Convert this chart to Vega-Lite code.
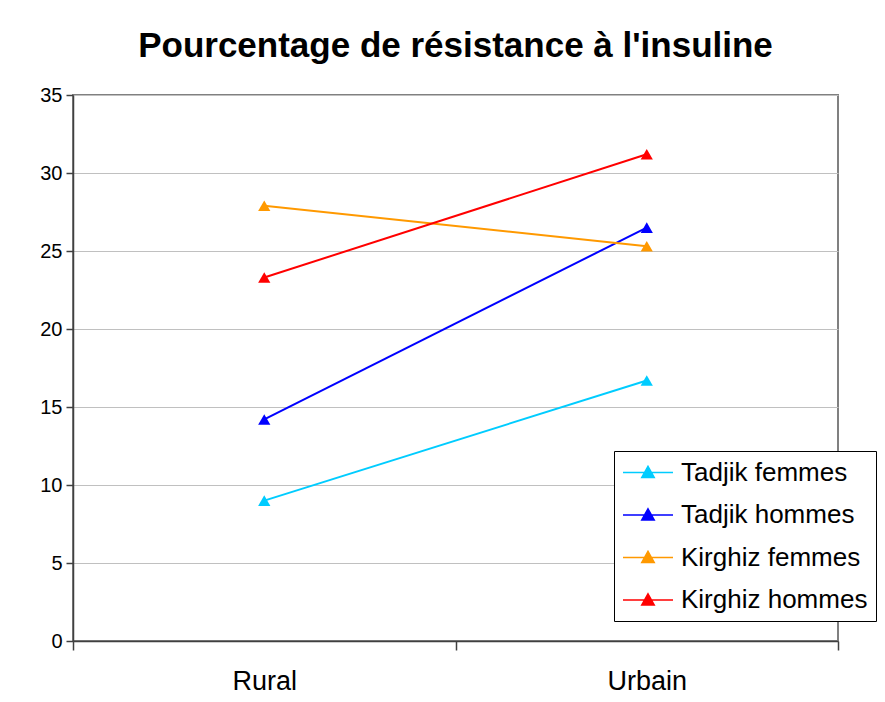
{
  "$schema": "https://vega.github.io/schema/vega-lite/v6.json",
  "autosize": "none",
  "width": 765,
  "height": 546,
  "padding": {"left": 73, "top": 95, "right": 47, "bottom": 61},
  "background": "white",
  "title": {
    "text": "Pourcentage de résistance à l'insuline",
    "font": "Liberation Sans",
    "fontSize": 35,
    "fontWeight": "bold",
    "color": "black",
    "anchor": "middle",
    "offset": 21
  },
  "config": {
    "font": "Liberation Sans",
    "view": {"stroke": "#808080", "strokeWidth": 2},
    "axis": {
      "labelFont": "Liberation Sans",
      "labelColor": "black",
      "domainColor": "#404040",
      "tickColor": "#404040",
      "domainWidth": 1.5,
      "tickWidth": 1.5
    }
  },
  "data": {
    "values": [
      {"zone": "Rural", "groupe": "Tadjik femmes", "pct": 9.0},
      {"zone": "Urbain", "groupe": "Tadjik femmes", "pct": 16.7},
      {"zone": "Rural", "groupe": "Tadjik hommes", "pct": 14.2},
      {"zone": "Urbain", "groupe": "Tadjik hommes", "pct": 26.5},
      {"zone": "Rural", "groupe": "Kirghiz femmes", "pct": 27.9},
      {"zone": "Urbain", "groupe": "Kirghiz femmes", "pct": 25.3},
      {"zone": "Rural", "groupe": "Kirghiz hommes", "pct": 23.3},
      {"zone": "Urbain", "groupe": "Kirghiz hommes", "pct": 31.2}
    ]
  },
  "encoding": {
    "x": {
      "field": "zone",
      "type": "nominal",
      "sort": ["Rural", "Urbain"],
      "scale": {"type": "band", "paddingInner": 0, "paddingOuter": 0},
      "axis": {
        "title": null,
        "labelAngle": 0,
        "labelFontSize": 27,
        "tickBand": "extent",
        "tickSize": 9,
        "labelPadding": 18,
        "grid": false
      }
    },
    "y": {
      "field": "pct",
      "type": "quantitative",
      "scale": {"domain": [0, 35], "nice": false},
      "axis": {
        "title": null,
        "values": [0, 5, 10, 15, 20, 25, 30, 35],
        "labelFontSize": 20,
        "tickSize": 7,
        "labelPadding": 4,
        "grid": true,
        "gridColor": "#C0C0C0",
        "gridWidth": 1
      }
    },
    "color": {
      "field": "groupe",
      "type": "nominal",
      "scale": {
        "domain": ["Tadjik femmes", "Tadjik hommes", "Kirghiz femmes", "Kirghiz hommes"],
        "range": ["#00CCFF", "#0000FF", "#FF9900", "#FF0000"]
      },
      "legend": {
        "title": null,
        "orient": "none",
        "legendX": 541,
        "legendY": 356,
        "strokeColor": "black",
        "fillColor": "white",
        "padding": 8,
        "symbolType": "M-1,0L3,0M1,-0.5L1.5,0.4L0.5,0.4Z",
        "symbolSize": 625,
        "symbolStrokeWidth": 1.5,
        "labelFontSize": 26,
        "labelLimit": 400,
        "labelColor": "black",
        "labelOffset": 32,
        "rowPadding": 15.5,
        "encode": {
          "symbols": {
            "update": {
              "fill": {"scale": "color", "field": "value"},
              "stroke": {"scale": "color", "field": "value"},
              "opacity": {"value": 1}
            }
          }
        }
      }
    }
  },
  "layer": [
    {"mark": {"type": "line", "strokeWidth": 2}},
    {"mark": {"type": "point", "shape": "triangle-up", "filled": true, "size": 150, "opacity": 1}}
  ]
}
